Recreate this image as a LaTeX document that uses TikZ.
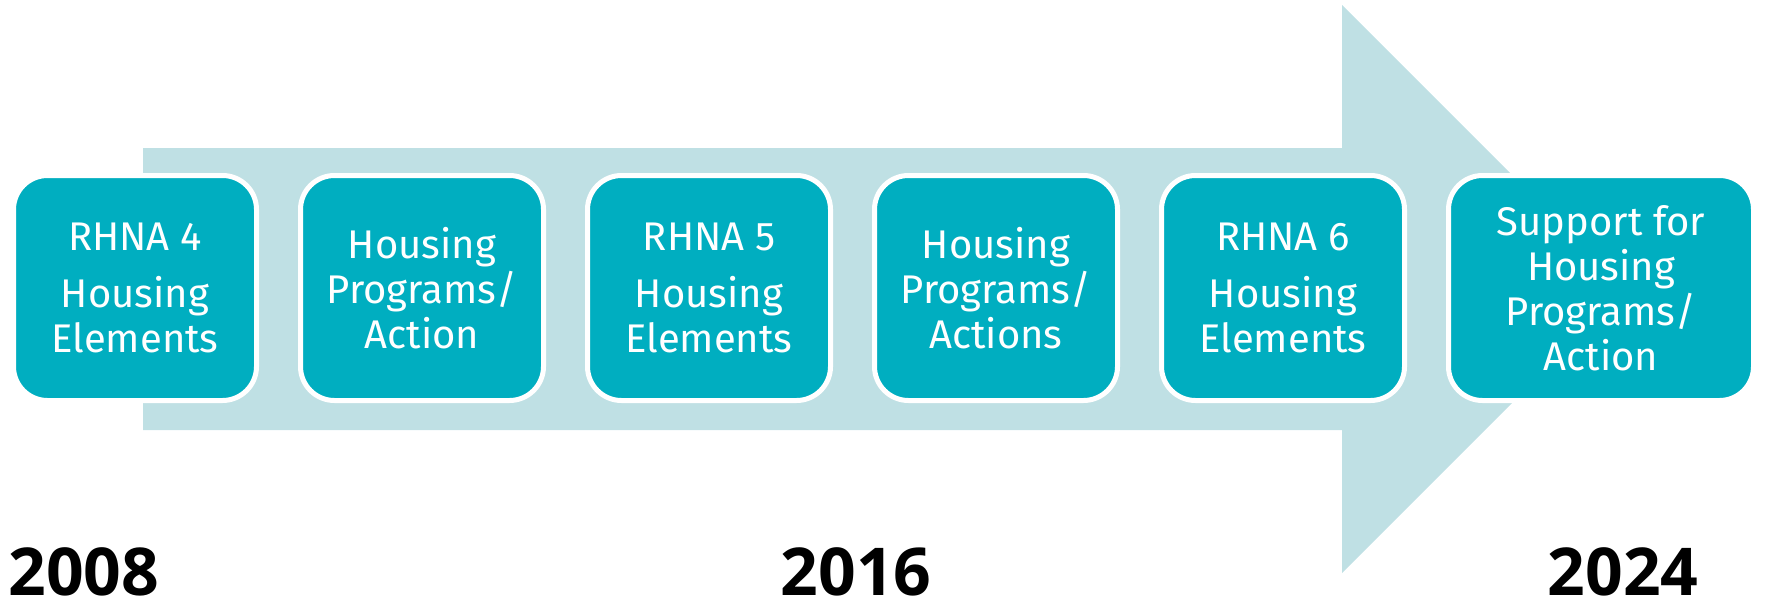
\documentclass[tikz,border=0pt]{standalone}
\usepackage{fontspec}
\setmainfont{Fira Sans}
\newfontfamily\yearfont{Open Sans}
\usetikzlibrary{positioning}

\definecolor{boxteal}{RGB}{0,174,192}
\definecolor{arrowblue}{RGB}{191,224,228}

\tikzstyle{phase} = [rectangle, rounded corners=17pt, minimum width=121.5pt, minimum height=112.5pt, outer sep=0pt, align=center, fill=boxteal, draw=white, line width=2.5pt, text=white, font=\fontsize{20}{22.5}\selectfont]
\tikzstyle{wide} = [phase, minimum width=152.5pt]
\tikzstyle{year} = [anchor=base, inner sep=0pt, font=\yearfont\bfseries\fontsize{33}{36}\selectfont]

\begin{document}
\begin{tikzpicture}[x=0.5pt, y=0.5pt, node distance=22pt]

		\useasboundingbox (0,0) rectangle (1765,602);
		% big arrow behind the boxes
		\fill [arrowblue] (143,172) -- (1342,172) -- (1342,29) -- (1626,313) -- (1342,597) -- (1342,454) -- (143,454) -- cycle;

		\node (rhna4) [phase] at (135,314) {RHNA 4\\[6pt] Housing\\ Elements};
		\node (prog1) [phase, right=of rhna4] {Housing\\ Programs/\\ Action};
		\node (rhna5) [phase, right=of prog1] {RHNA 5\\[6pt] Housing\\ Elements};
		\node (prog2) [phase, right=of rhna5] {Housing\\ Programs/\\ Actions};
		\node (rhna6) [phase, right=of prog2] {RHNA 6\\[6pt] Housing\\ Elements};
		\node (supp) [wide, right=of rhna6] {Support for\\ Housing\\ Programs/\\ Action};

		\node (y2008) [year, anchor=base west] at (8,7) {2008};
		\node (y2016) [year] at (856,7) {2016};
		\node (y2024) [year] at (1623,7) {2024};
		\end{tikzpicture}
\end{document}
